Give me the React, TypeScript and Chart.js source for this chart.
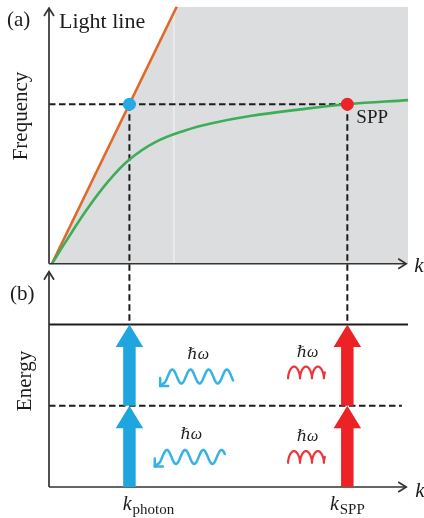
import { useEffect, useRef } from "react";
import { Chart, registerables } from "chart.js";

Chart.register(...registerables);

// ---------------- data ----------------
const K_MIN = 0;
const K_MAX = 10;
const FREQ_MAX = 10;
// light line  (omega = c k)
const LIGHT_LINE_K = [0.08, 3.56];
const LIGHT_LINE_W = [0, 10];
// SPP dispersion curve
const SPP_K = [0.08, 0.45, 1.05, 1.65, 2.24, 2.95, 3.79, 4.54, 5.6, 7.0, 8.31, 10];
const SPP_W = [0, 0.82, 2.1, 3.2, 4.05, 4.72, 5.18, 5.46, 5.74, 6.0, 6.2, 6.36];
// matching points
const K_PHOTON = 2.24;
const K_SPP = 8.31;
const W_MATCH = 6.2;
// energy panel
const ENERGY_LEVELS = [0, 1, 2];
const ENERGY_AXIS_MAX = 2.65;
const K_AXIS_END = 9.95;
const MID_LEVEL_END = 9.83;
const FAINT_LINE_K = 3.48;
// photon (wavy) annotations: [kStart, kEnd], energy of centre
const BLUE_WAVE_K = [[3.18, 5.13], [3.03, 4.9]];
const BLUE_WAVE_E = [1.36, 0.37];
const RED_WAVE_K = [[6.66, 7.74], [6.66, 7.74]];
const RED_WAVE_E = [1.41, 0.37];

// ---------------- styles ----------------
const C_GREY = "#dcdddf";
const C_ORANGE = "#e0692a";
const C_GREEN = "#3cae58";
const C_BLUE = "#1fa6de";
const C_BLUE_WAVE = "#36b2e4";
const C_RED = "#ec2227";
const C_RED_WAVE = "#ee3439";
const C_DARK = "#1c1c1c";
const C_AXIS = "#333333";
const SERIF = '"Liberation Serif", "DejaVu Serif", serif';

const pts = (xs: number[], ys: number[]) => xs.map((x, i) => ({ x, y: ys[i] }));

function chevron(ctx: CanvasRenderingContext2D, tx: number, ty: number, dir: "up" | "right") {
  ctx.beginPath();
  if (dir === "up") {
    ctx.moveTo(tx - 5, ty + 8);
    ctx.lineTo(tx, ty);
    ctx.lineTo(tx + 5, ty + 8);
  } else {
    ctx.moveTo(tx - 8, ty - 5);
    ctx.lineTo(tx, ty);
    ctx.lineTo(tx - 8, ty + 5);
  }
  ctx.stroke();
}

function blockArrow(ctx: CanvasRenderingContext2D, x: number, yFrom: number, yTo: number, color: string) {
  const sw = 12.5, hw = 27.5, hl = 22.5;
  ctx.fillStyle = color;
  ctx.beginPath();
  ctx.moveTo(x - sw / 2, yFrom);
  ctx.lineTo(x - sw / 2, yTo + hl);
  ctx.lineTo(x - hw / 2, yTo + hl);
  ctx.lineTo(x, yTo);
  ctx.lineTo(x + hw / 2, yTo + hl);
  ctx.lineTo(x + sw / 2, yTo + hl);
  ctx.lineTo(x + sw / 2, yFrom);
  ctx.closePath();
  ctx.fill();
}

function blueWave(ctx: CanvasRenderingContext2D, x0: number, x1: number, cy: number) {
  const amp = 7, period = 18.2;
  const tipX = x0 - 3, tipY = cy + amp + 2.5;
  ctx.strokeStyle = C_BLUE_WAVE;
  ctx.lineWidth = 2.5;
  ctx.lineCap = "round";
  ctx.lineJoin = "round";
  ctx.beginPath();
  ctx.moveTo(tipX, tipY);
  for (let x = x0; x <= x1; x += 0.5) {
    ctx.lineTo(x, cy + amp * Math.cos((2 * Math.PI * (x - x0)) / period));
  }
  ctx.stroke();
  ctx.beginPath();
  ctx.moveTo(tipX, tipY - 8);
  ctx.lineTo(tipX, tipY);
  ctx.lineTo(tipX + 8, tipY);
  ctx.stroke();
}

function redWave(ctx: CanvasRenderingContext2D, x0: number, x1: number, cy: number) {
  const turns = 6.5 * Math.PI;
  const a = (x1 - x0) / turns;
  const b = a * 1.05;
  const c = 5.8;
  ctx.strokeStyle = C_RED_WAVE;
  ctx.lineWidth = 2.2;
  ctx.lineCap = "round";
  ctx.lineJoin = "round";
  ctx.beginPath();
  for (let i = 0; i <= 400; i++) {
    const t = (turns * i) / 400;
    const px = x0 + a * t - b * Math.sin(t);
    const py = cy + c * Math.cos(t);
    if (i === 0) ctx.moveTo(px, py);
    else ctx.lineTo(px, py);
  }
  ctx.stroke();
}

function hbar(ctx: CanvasRenderingContext2D, cx: number, cy: number) {
  ctx.font = `italic 16px ${SERIF}`;
  ctx.fillStyle = C_DARK;
  ctx.textAlign = "center";
  ctx.textBaseline = "middle";
  ctx.fillText("ℏω", cx, cy);
}

function kLabel(ctx: CanvasRenderingContext2D, cx: number, baseline: number, sub: string) {
  ctx.fillStyle = C_DARK;
  ctx.textBaseline = "alphabetic";
  ctx.textAlign = "left";
  ctx.font = `italic 20px ${SERIF}`;
  const kw = ctx.measureText("k").width;
  ctx.font = `15px ${SERIF}`;
  const sw = ctx.measureText(sub).width;
  const left = cx - (kw + sw + 1) / 2;
  ctx.font = `italic 20px ${SERIF}`;
  ctx.fillText("k", left, baseline);
  ctx.font = `15px ${SERIF}`;
  ctx.fillText(sub, left + kw + 1, baseline + 4);
}

const annotations = {
  id: "annotations",
  afterDatasetDraw(chart: any, args: any) {
    const ds = chart.data.datasets[args.index];
    if (ds.label !== "region") return;
    const { ctx } = chart;
    const x = chart.scales.x, yA = chart.scales.yA, yB = chart.scales.yB;
    ctx.save();
    ctx.strokeStyle = C_DARK;
    ctx.lineWidth = 2;
    ctx.setLineDash([6.5, 3.5]);
    for (const k of [K_PHOTON, K_SPP]) {
      const px = x.getPixelForValue(k);
      ctx.beginPath();
      ctx.moveTo(px, yA.getPixelForValue(W_MATCH));
      ctx.lineTo(px, yB.getPixelForValue(ENERGY_LEVELS[2]));
      ctx.stroke();
    }
    ctx.restore();
  },
  afterDatasetsDraw(chart: any) {
    const { ctx } = chart;
    const x = chart.scales.x, yA = chart.scales.yA, yB = chart.scales.yB;
    ctx.save();
    // axes
    ctx.strokeStyle = C_AXIS;
    ctx.lineWidth = 1.7;
    ctx.lineCap = "butt";
    const x0 = x.getPixelForValue(0);
    const xEnd = x.getPixelForValue(K_AXIS_END);
    const oA = yA.getPixelForValue(0);
    const tA = yA.getPixelForValue(FREQ_MAX) + 1.5;
    const oB = yB.getPixelForValue(0);
    const tB = yB.getPixelForValue(ENERGY_AXIS_MAX);
    ctx.beginPath();
    ctx.moveTo(x0, oA); ctx.lineTo(x0, tA);
    ctx.moveTo(x0, oA); ctx.lineTo(xEnd, oA);
    ctx.moveTo(x0, oB); ctx.lineTo(x0, tB);
    ctx.moveTo(x0, oB); ctx.lineTo(xEnd, oB);
    ctx.stroke();
    chevron(ctx, x0, tA, "up");
    chevron(ctx, xEnd, oA, "right");
    chevron(ctx, x0, tB, "up");
    chevron(ctx, xEnd, oB, "right");

    // transition arrows
    const pairs: [number, string][] = [[K_PHOTON, C_BLUE], [K_SPP, C_RED]];
    for (const [k, col] of pairs) {
      const px = x.getPixelForValue(k);
      for (let i = 0; i < ENERGY_LEVELS.length - 1; i++) {
        blockArrow(ctx, px, yB.getPixelForValue(ENERGY_LEVELS[i]), yB.getPixelForValue(ENERGY_LEVELS[i + 1]), col);
      }
    }

    // photon waves + hbar omega labels
    BLUE_WAVE_K.forEach(([ks, ke], i) => {
      const xs = x.getPixelForValue(ks), xe = x.getPixelForValue(ke);
      const cy = yB.getPixelForValue(BLUE_WAVE_E[i]);
      blueWave(ctx, xs, xe, cy);
      hbar(ctx, (xs + xe) / 2, cy - 22);
    });
    RED_WAVE_K.forEach(([ks, ke], i) => {
      const xs = x.getPixelForValue(ks), xe = x.getPixelForValue(ke);
      const cy = yB.getPixelForValue(RED_WAVE_E[i]);
      redWave(ctx, xs, xe, cy);
      hbar(ctx, (xs + xe) / 2, cy - 20);
    });

    // texts
    ctx.fillStyle = C_DARK;
    ctx.textAlign = "left";
    ctx.textBaseline = "alphabetic";
    ctx.font = `21px ${SERIF}`;
    ctx.fillText("(a)", 7, 26);
    ctx.fillText("(b)", 10, 300);
    ctx.font = `22px ${SERIF}`;
    ctx.fillText("Light line", x0 + 10, 28);
    const sx = x.getPixelForValue(K_SPP), sy = yA.getPixelForValue(W_MATCH);
    ctx.font = `19px ${SERIF}`;
    ctx.fillText("SPP", sx + 9, sy + 19);
    ctx.font = `italic 21px ${SERIF}`;
    ctx.fillText("k", xEnd + 8, oA + 8);
    ctx.fillText("k", xEnd + 9, oB + 10);

    ctx.font = `21px ${SERIF}`;
    ctx.textAlign = "center";
    ctx.save();
    ctx.translate(27, 116);
    ctx.rotate(-Math.PI / 2);
    ctx.fillText("Frequency", 0, 0);
    ctx.restore();
    ctx.save();
    ctx.translate(31, 381);
    ctx.rotate(-Math.PI / 2);
    ctx.fillText("Energy", 0, 0);
    ctx.restore();

    kLabel(ctx, x.getPixelForValue(K_PHOTON) + 19, oB + 23, "photon");
    kLabel(ctx, x.getPixelForValue(K_SPP), oB + 23, "SPP");
    ctx.restore();
  },
};

export default function App() {
  const ref = useRef<HTMLCanvasElement | null>(null);
  useEffect(() => {
    if (!ref.current) return;
    const chart = new Chart(ref.current, {
      type: "line",
      data: {
        datasets: [
          {
            label: "dots",
            data: [{ x: K_PHOTON, y: W_MATCH }, { x: K_SPP, y: W_MATCH }],
            yAxisID: "yA",
            showLine: false,
            pointRadius: 6.5,
            pointBorderWidth: 0,
            pointBackgroundColor: ["#27a9e1", "#ee2328"],
            pointBorderColor: ["#27a9e1", "#ee2328"],
          },
          {
            label: "SPP",
            data: pts(SPP_K, SPP_W),
            yAxisID: "yA",
            borderColor: C_GREEN,
            borderWidth: 2.6,
            pointRadius: 0,
            tension: 0.4,
          },
          {
            label: "light line",
            data: pts(LIGHT_LINE_K, LIGHT_LINE_W),
            yAxisID: "yA",
            borderColor: C_ORANGE,
            borderWidth: 2.6,
            pointRadius: 0,
          },
          {
            label: "match",
            data: [{ x: 0, y: W_MATCH }, { x: K_SPP, y: W_MATCH }],
            yAxisID: "yA",
            borderColor: C_DARK,
            borderWidth: 2,
            borderDash: [6.5, 3.5],
            pointRadius: 0,
          },
          {
            label: "level 2",
            data: [{ x: K_MIN, y: ENERGY_LEVELS[2] }, { x: K_MAX, y: ENERGY_LEVELS[2] }],
            yAxisID: "yB",
            borderColor: C_DARK,
            borderWidth: 2,
            pointRadius: 0,
          },
          {
            label: "level 1",
            data: [{ x: K_MIN, y: ENERGY_LEVELS[1] }, { x: MID_LEVEL_END, y: ENERGY_LEVELS[1] }],
            yAxisID: "yB",
            borderColor: C_DARK,
            borderWidth: 2,
            borderDash: [6.5, 3.5],
            pointRadius: 0,
          },
          {
            label: "faint",
            data: [{ x: FAINT_LINE_K, y: 0 }, { x: FAINT_LINE_K, y: FREQ_MAX }],
            yAxisID: "yA",
            borderColor: "rgba(255,255,255,0.75)",
            borderWidth: 1,
            pointRadius: 0,
          },
          {
            label: "region",
            data: [
              { x: LIGHT_LINE_K[0], y: LIGHT_LINE_W[0] },
              { x: LIGHT_LINE_K[1], y: LIGHT_LINE_W[1] },
              { x: K_MAX, y: FREQ_MAX },
              { x: K_MAX, y: 0 },
            ],
            yAxisID: "yA",
            borderWidth: 0,
            borderColor: "rgba(0,0,0,0)",
            backgroundColor: C_GREY,
            fill: "origin",
            pointRadius: 0,
          },
        ],
      },
      options: {
        responsive: false,
        animation: false,
        devicePixelRatio: 1,
        events: [],
        layout: { padding: { left: 49, right: 16, top: 5, bottom: 31 } },
        plugins: { legend: { display: false }, tooltip: { enabled: false } },
        scales: {
          x: { type: "linear", min: K_MIN, max: K_MAX, display: false },
          yA: { type: "linear", position: "left", min: -8.68, max: FREQ_MAX, display: false },
          yB: { type: "linear", position: "left", min: 0, max: 5.914, display: false },
        },
      },
      plugins: [annotations],
    } as any);
    return () => chart.destroy();
  }, []);
  return (
    <div style={{ position: "fixed", left: 0, top: 0, width: 424, height: 518, background: "#fff" }}>
      <canvas ref={ref} width={424} height={518} style={{ display: "block", width: 424, height: 518 }} />
    </div>
  );
}
